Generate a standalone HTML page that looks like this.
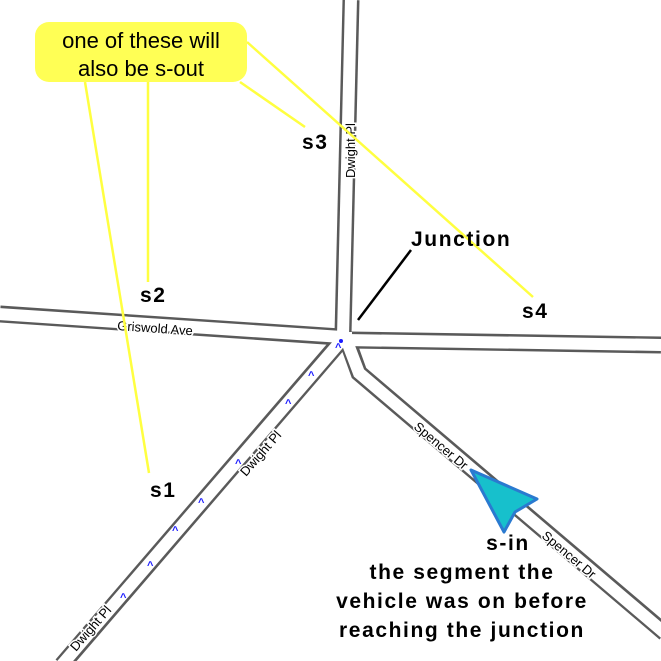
<!DOCTYPE html>
<html><head><meta charset="utf-8"><style>
html,body{margin:0;padding:0;background:#fff;}
svg{display:block;}
.rl{font-family:"Liberation Sans",sans-serif;font-size:13px;fill:#000;stroke:#fff;stroke-width:3px;paint-order:stroke;}
.lb{font-family:"Liberation Sans",sans-serif;font-weight:bold;font-size:21px;fill:#000;letter-spacing:1.6px;}
.ar{font-family:"Liberation Sans",sans-serif;font-size:11px;font-weight:bold;fill:#1a1aff;}
</style></head><body>
<svg width="661" height="661" viewBox="0 0 661 661" xmlns="http://www.w3.org/2000/svg">
<g fill="none" stroke-linejoin="miter">
<g stroke="#5a5a5a" stroke-width="17">
<polyline points="351,0 343,334"/>
<polyline points="0,314 340,337"/>
<polyline points="350,340 661,345"/>
<polyline points="339,343 62,665"/>
<polyline points="350,348 359,373 665,633"/>
</g>
<g stroke="#fff" stroke-width="12">
<polyline points="351,-2 343,336"/>
<polyline points="-2,314 342,337"/>
<polyline points="346,340 663,345"/>
<polyline points="341,341 60,667"/>
<polyline points="348,344 359,373 667,635"/>
</g>
<rect x="336" y="332" width="16" height="14" fill="#fff" stroke="none"/>
</g>
<text class="rl" transform="translate(355,178) rotate(-90)">Dwight Pl</text>
<text class="rl" transform="translate(117,330) rotate(4)">Griswold Ave</text>
<text class="rl" transform="translate(246,477) rotate(-49)">Dwight Pl</text>
<text class="rl" transform="translate(76,652) rotate(-49)">Dwight Pl</text>
<text class="rl" transform="translate(413,428) rotate(40)">Spencer Dr</text>
<text class="rl" transform="translate(541,537) rotate(40)">Spencer Dr</text>
<g class="ar">
<text x="335" y="351">^</text>
<text x="308" y="379">^</text>
<text x="285" y="407">^</text>
<text x="235" y="467">^</text>
<text x="198" y="506">^</text>
<text x="172" y="534">^</text>
<text x="147" y="569">^</text>
<text x="120" y="601">^</text>
</g>
<circle cx="341" cy="341" r="2" fill="#1a1aff"/>
<g stroke="#ffff40" stroke-width="2.5">
<line x1="85" y1="82" x2="149" y2="473"/>
<line x1="148" y1="82" x2="148" y2="282"/>
<line x1="240" y1="82" x2="305" y2="127"/>
<line x1="247" y1="42" x2="533" y2="297"/>
</g>
<rect x="35" y="22" width="212" height="60" rx="14" fill="#ffff55"/>
<text x="141" y="48" text-anchor="middle" font-family="Liberation Sans,sans-serif" font-size="22" fill="#000">one of these will</text>
<text x="141" y="76" text-anchor="middle" font-family="Liberation Sans,sans-serif" font-size="22" fill="#000">also be s-out</text>
<line x1="411" y1="250" x2="358" y2="320" stroke="#000" stroke-width="2.5"/>
<text class="lb" x="411" y="246">Junction</text>
<text class="lb" x="302" y="149">s3</text>
<text class="lb" x="140" y="302">s2</text>
<text class="lb" x="522" y="318">s4</text>
<text class="lb" x="150" y="497">s1</text>
<polygon points="471,470 537,499 515,512 504,532" fill="#17c0cc" stroke="#2a7ad0" stroke-width="3" stroke-linejoin="round"/>
<g class="lb" text-anchor="middle">
<text x="508" y="550">s-in</text>
<text x="462" y="579">the segment the</text>
<text x="462" y="608">vehicle was on before</text>
<text x="462" y="637">reaching the junction</text>
</g>
</svg>
</body></html>
